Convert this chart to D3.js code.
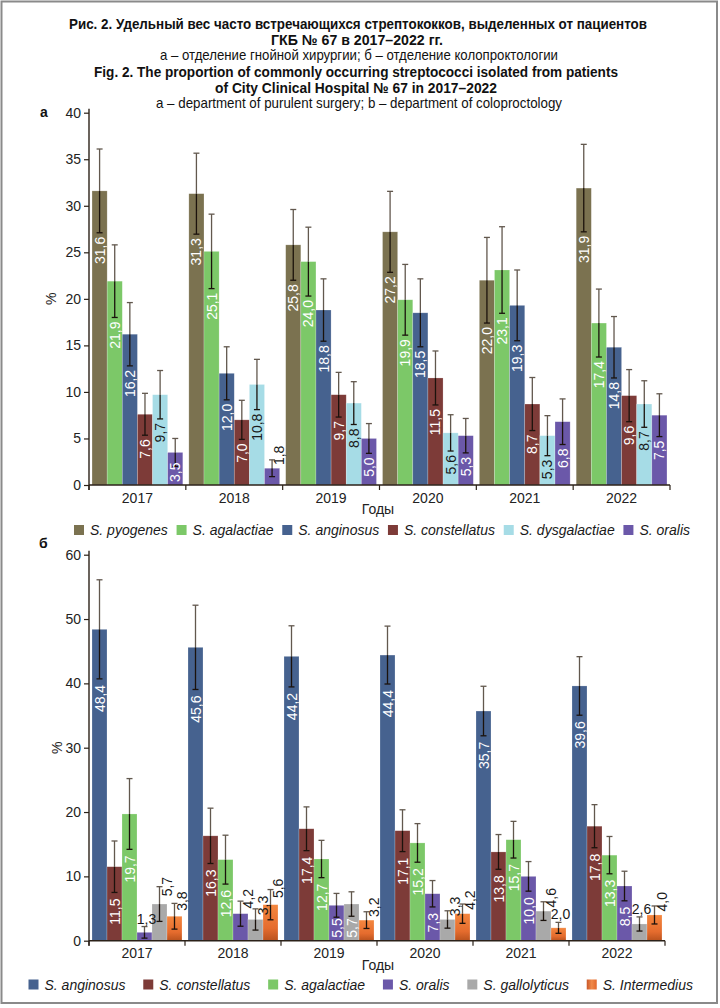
<!DOCTYPE html>
<html><head><meta charset="utf-8">
<script src="https://cdn.jsdelivr.net/npm/d3@7"></script>
<style>
html,body{margin:0;padding:0;background:#fff;}
svg{display:block;font-family:"Liberation Sans",Arial,Helvetica,sans-serif;}
</style></head><body>
<svg id="chart" width="720" height="1008"></svg>
<script>
// ---------- DATA ----------
const years = ["2017", "2018", "2019", "2020", "2021", "2022"];

const titleLines = [
  "Рис. 2. Удельный вес часто встречающихся стрептококков, выделенных от пациентов",
  "ГКБ № 67 в 2017–2022 гг.",
  "а – отделение гнойной хирургии; б – отделение колопроктологии",
  "Fig. 2. The proportion of commonly occurring streptococci isolated from patients",
  "of City Clinical Hospital № 67 in 2017–2022",
  "a – department of purulent surgery; b – department of coloproctology"
];

// Panel a – purulent surgery
const seriesA = ["S. pyogenes", "S. agalactiae", "S. anginosus", "S. constellatus", "S. dysgalactiae", "S. oralis"];
const pyogenesA      = [31.6, 31.3, 25.8, 27.2, 22.0, 31.9];
const agalactiaeA    = [21.9, 25.1, 24.0, 19.9, 23.1, 17.4];
const anginosusA     = [16.2, 12.0, 18.8, 18.5, 19.3, 14.8];
const constellatusA  = [7.6, 7.0, 9.7, 11.5, 8.7, 9.6];
const dysgalactiaeA  = [9.7, 10.8, 8.8, 5.6, 5.3, 8.7];
const oralisA        = [3.5, 1.8, 5.0, 5.3, 6.8, 7.5];
const pyogenesAErr     = [4.5, 4.35, 3.8, 4.35, 4.6, 4.7];
const agalactiaeAErr   = [3.9, 4.0, 3.7, 3.8, 4.65, 3.65];
const anginosusAErr    = [3.4, 2.85, 3.35, 3.65, 3.8, 3.3];
const constellatusAErr = [2.25, 2.1, 2.4, 2.9, 2.85, 2.8];
const dysgalactiaeAErr = [2.6, 2.7, 2.3, 1.95, 2.15, 2.5];
const oralisAErr       = [1.5, 0.9, 1.6, 1.85, 2.45, 2.3];
const ticksA = [0, 5, 10, 15, 20, 25, 30, 35, 40];

// Panel b – coloproctology
const seriesB = ["S. anginosus", "S. constellatus", "S. agalactiae", "S. oralis", "S. gallolyticus", "S. Intermedius"];
const anginosusB     = [48.4, 45.6, 44.2, 44.4, 35.7, 39.6];
const constellatusB  = [11.5, 16.3, 17.4, 17.1, 13.8, 17.8];
const agalactiaeB    = [19.7, 12.6, 12.7, 15.2, 15.7, 13.3];
const oralisB        = [1.3, 4.2, 5.5, 7.3, 10.0, 8.5];
const gallolyticusB  = [5.7, 3.3, 5.7, 3.3, 4.6, 2.6];
const intermediusB   = [3.8, 5.6, 3.2, 4.2, 2.0, 4.0];
const anginosusBErr    = [7.7, 6.55, 4.75, 4.5, 3.85, 4.55];
const constellatusBErr = [4.0, 4.3, 3.4, 3.25, 2.7, 3.35];
const agalactiaeBErr   = [5.5, 3.8, 2.9, 3.0, 2.85, 2.9];
const oralisBErr       = [0.9, 1.95, 1.85, 2.05, 2.3, 2.3];
const gallolyticusBErr = [2.7, 1.65, 1.9, 1.35, 1.45, 1.1];
const intermediusBErr  = [2.0, 2.35, 1.3, 1.5, 0.85, 1.4];
const ticksB = [0, 10, 20, 30, 40, 50, 60];

// ---------- DRAW ----------
const svg = d3.select("#chart");
const defs = svg.append("defs");
const grad = defs.append("linearGradient").attr("id", "gradOrange")
  .attr("x1", 0).attr("y1", 0).attr("x2", 0).attr("y2", 1);
grad.append("stop").attr("offset", "0%").attr("stop-color", "#f4873f");
grad.append("stop").attr("offset", "65%").attr("stop-color", "#e56c2e");
grad.append("stop").attr("offset", "100%").attr("stop-color", "#b9521e");
const gradL = defs.append("linearGradient").attr("id", "gradOrangeL")
  .attr("x1", 0).attr("y1", 0).attr("x2", 1).attr("y2", 0);
gradL.append("stop").attr("offset", "0%").attr("stop-color", "#c9582a");
gradL.append("stop").attr("offset", "50%").attr("stop-color", "#f08a4a");
gradL.append("stop").attr("offset", "100%").attr("stop-color", "#e2672c");

const colorMap = {
  "S. pyogenes": "#7b7250",
  "S. agalactiae": "#7cc868",
  "S. anginosus": "#46628f",
  "S. constellatus": "#7d3b38",
  "S. dysgalactiae": "#a6dce6",
  "S. oralis": "#6b58a9",
  "S. gallolyticus": "#a9a9a9",
  "S. Intermedius": "url(#gradOrange)"
};
const legendColorMap = Object.assign({}, colorMap, {"S. Intermedius": "url(#gradOrangeL)"});
const labelColorMap = {
  "S. dysgalactiae": "#1a1a1a"
};
const outsideLabelSeries = new Set(["S. Intermedius"]);

// frame
svg.append("rect").attr("x", 1.5).attr("y", 1.5).attr("width", 715.5).attr("height", 1001.5)
  .attr("fill", "none").attr("stroke", "#8a8a8a").attr("stroke-width", 2);

// titles
const titleSpec = [
  {y: 29, w: 578, bold: true, cx: 358},
  {y: 44.5, w: 172, bold: true, cx: 357},
  {y: 60, w: 398, bold: false, cx: 359},
  {y: 76.5, w: 524, bold: true, cx: 356},
  {y: 93, w: 282, bold: true, cx: 356},
  {y: 107.5, w: 406, bold: false, cx: 359}
];
titleLines.forEach((t, i) => {
  const s = titleSpec[i];
  svg.append("text").attr("x", s.cx - s.w / 2).attr("y", s.y)
    .attr("font-size", 14.5).attr("font-weight", s.bold ? "bold" : "normal")
    .attr("fill", "#111")
    .attr("textLength", s.w).attr("lengthAdjust", "spacingAndGlyphs")
    .text(t);
});

function fmt(v) { return d3.format(".1f")(v).replace(".", ","); }

function drawPanel(cfg) {
  const g = svg.append("g");
  const x = d3.scaleBand().domain(years).range([cfg.x0, cfg.x1]).paddingInner(0).paddingOuter(0);
  const xi = d3.scaleBand().domain(cfg.series).range([0, x.bandwidth()]).paddingOuter(0.2).paddingInner(0);
  const y = d3.scaleLinear().domain([0, cfg.yMax]).range([cfg.yBottom, cfg.yTop]);
  const y0 = y(0);

  const rows = [];
  cfg.series.forEach((s, si) => {
    years.forEach((yr, i) => rows.push({s, si, yr, v: cfg.values[si][i], e: cfg.errors[si][i]}));
  });

  // bars
  g.append("g").selectAll("rect").data(rows).join("rect")
    .attr("x", d => x(d.yr) + xi(d.s))
    .attr("width", xi.bandwidth())
    .attr("y", d => y(d.v))
    .attr("height", d => y0 - y(d.v))
    .attr("fill", d => colorMap[d.s])
    .attr("stroke", "rgba(255,255,255,0.35)").attr("stroke-width", 0.6);

  // error bars
  const eg = g.append("g");
  rows.forEach(d => {
    const cx = x(d.yr) + xi(d.s) + xi.bandwidth() / 2;
    const yt = y(d.v + d.e), yv = y(d.v), yb = y(Math.max(0, d.v - d.e));
    const cw = 3;
    eg.append("line").attr("x1", cx).attr("x2", cx).attr("y1", yt).attr("y2", yv)
      .attr("stroke", "#62584e").attr("stroke-width", 1.3);
    eg.append("line").attr("x1", cx - cw).attr("x2", cx + cw).attr("y1", yt).attr("y2", yt)
      .attr("stroke", "#62584e").attr("stroke-width", 1.3);
    eg.append("line").attr("x1", cx).attr("x2", cx).attr("y1", yv).attr("y2", yb)
      .attr("stroke", "#1b120c").attr("stroke-width", 1.3);
    eg.append("line").attr("x1", cx - cw).attr("x2", cx + cw).attr("y1", yb).attr("y2", yb)
      .attr("stroke", "#1b120c").attr("stroke-width", 1.3);
  });

  // value labels
  const lg = g.append("g").attr("font-size", 14);
  rows.forEach(d => {
    const cx = x(d.yr) + xi(d.s) + xi.bandwidth() / 2;
    const yt = y(d.v + d.e), yv = y(d.v), yb = y(Math.max(0, d.v - d.e));
    const t = lg.append("text").text(fmt(d.v));
    const len = t.node().getComputedTextLength();
    const spaceBelow = y0 - yb;
    if (cfg.horizBelow && d.v < cfg.horizBelow) {
      t.attr("x", cx + 2).attr("y", yt - 3).attr("text-anchor", "middle").attr("fill", "#1a1a1a");
    } else if (spaceBelow >= cfg.minBelow && !outsideLabelSeries.has(d.s)) {
      const yTop = Math.min(yb + cfg.gap, y0 - len - 3);
      t.attr("transform", `translate(${cx},${yTop}) rotate(-90)`)
        .attr("text-anchor", "end").attr("dominant-baseline", "central")
        .attr("fill", labelColorMap[d.s] || "#ffffff");
    } else {
      const yBase = (yt + yv) / 2 + 1;
      t.attr("transform", `translate(${cx + 7},${yBase}) rotate(-90)`)
        .attr("text-anchor", "start").attr("dominant-baseline", "central")
        .attr("fill", "#1a1a1a");
    }
  });

  // y axis
  const ya = g.append("g").attr("transform", `translate(${cfg.x0},0)`)
    .call(d3.axisLeft(y).tickValues(cfg.ticks).tickSize(5).tickSizeOuter(0).tickPadding(3));
  ya.select(".domain").remove();
  ya.selectAll(".tick line").attr("stroke", "#2b2118").attr("stroke-width", 1.2);
  ya.selectAll(".tick text").attr("font-size", 14).attr("fill", "#222")
    .attr("font-family", "Liberation Sans, Arial, sans-serif");
  g.append("line").attr("x1", cfg.x0).attr("x2", cfg.x0)
    .attr("y1", cfg.yTop - 4).attr("y2", y0 + 5)
    .attr("stroke", "#2b2118").attr("stroke-width", 1.4);

  // x axis
  g.append("line").attr("x1", cfg.x0).attr("x2", cfg.x1).attr("y1", y0).attr("y2", y0)
    .attr("stroke", "#2b2118").attr("stroke-width", 1.4);
  const bounds = years.map(yr => x(yr)).concat([x.range()[1]]);
  g.append("g").selectAll("line").data(bounds).join("line")
    .attr("x1", d => d).attr("x2", d => d).attr("y1", y0).attr("y2", y0 + 5)
    .attr("stroke", "#2b2118").attr("stroke-width", 1.2);
  g.append("g").selectAll("text").data(years).join("text")
    .attr("x", d => x(d) + x.bandwidth() / 2).attr("y", y0 + 17.5)
    .attr("text-anchor", "middle").attr("font-size", 14).attr("fill", "#222")
    .text(d => d);
  g.append("text").attr("x", 378).attr("y", cfg.xTitleY).attr("text-anchor", "middle")
    .attr("font-size", 14).attr("fill", "#222").text("Годы");

  // y title
  g.append("text").attr("transform", `translate(${cfg.yTitleX},${(cfg.yTop + y0) / 2}) rotate(-90)`)
    .attr("text-anchor", "middle").attr("dominant-baseline", "central")
    .attr("font-size", 14).attr("fill", "#222").text("%");

  // panel letter
  g.append("text").attr("x", cfg.letterX).attr("y", cfg.letterY).attr("font-size", 14)
    .attr("font-weight", "bold").attr("fill", "#111").text(cfg.letter);

  // legend
  const leg = g.append("g").attr("font-size", 14).attr("font-style", "italic");
  const items = cfg.series.map(s => {
    const it = leg.append("g");
    it.append("rect").attr("width", 10).attr("height", 10).attr("y", -5)
      .attr("fill", legendColorMap[s]);
    const tx = it.append("text").attr("x", 16).attr("dominant-baseline", "central")
      .attr("fill", "#1a1a1a").text(s);
    return {it, w: 16 + tx.node().getComputedTextLength()};
  });
  const total = d3.sum(items, d => d.w);
  const gap = (cfg.legX1 - cfg.legX0 - total) / (items.length - 1);
  let cur = cfg.legX0;
  items.forEach(d => {
    d.it.attr("transform", `translate(${cur},${cfg.legY})`);
    cur += d.w + gap;
  });
}

drawPanel({
  series: seriesA,
  values: [pyogenesA, agalactiaeA, anginosusA, constellatusA, dysgalactiaeA, oralisA],
  errors: [pyogenesAErr, agalactiaeAErr, anginosusAErr, constellatusAErr, dysgalactiaeAErr, oralisAErr],
  ticks: ticksA, yMax: 40,
  x0: 89, x1: 670, yBottom: 485, yTop: 112.7,
  gap: 4, horizBelow: 0, minBelow: 12,
  xTitleY: 514, yTitleX: 51,
  letter: "а", letterX: 40, letterY: 117,
  legX0: 74, legX1: 690, legY: 530
});

drawPanel({
  series: seriesB,
  values: [anginosusB, constellatusB, agalactiaeB, oralisB, gallolyticusB, intermediusB],
  errors: [anginosusBErr, constellatusBErr, agalactiaeBErr, oralisBErr, gallolyticusBErr, intermediusBErr],
  ticks: ticksB, yMax: 60,
  x0: 89, x1: 665, yBottom: 940.7, yTop: 554.7,
  gap: 6, horizBelow: 3, minBelow: 21,
  xTitleY: 969.5, yTitleX: 57,
  letter: "б", letterX: 39, letterY: 548,
  legX0: 28.5, legX1: 693, legY: 984.5
});
</script>
</body></html>
